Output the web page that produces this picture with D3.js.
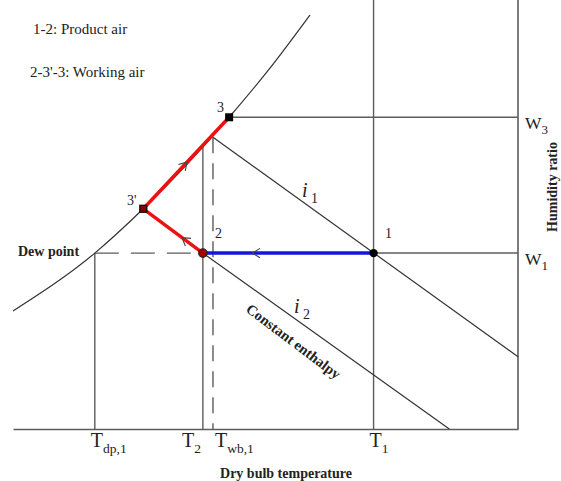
<!DOCTYPE html>
<html>
<head>
<meta charset="utf-8">
<script src="https://cdn.jsdelivr.net/npm/d3@7"></script>
<style>
  body { margin: 0; background: #fff; }
  svg { display: block; }
  text { font-family: "Liberation Serif", "Times New Roman", serif; fill: #222; }
</style>
</head>
<body>
<svg id="chart" width="561" height="481"></svg>
<script>
width = 561;
height = 481;

// dry bulb temperatures (arbitrary units) and humidity ratios
T_MAX = 50;
W_MAX = 30;
T_DP = 8.1;
T_2 = 18.8;
T_WB = 19.8;
T_1 = 35.7;
W_1 = 12.3;
W_3 = 21.8;

// state points [name, T, W]
statePoints = [['1', 35.7, 12.3], ['2', 18.8, 12.3], ["3'", 12.9, 15.4], ['3', 21.4, 21.8]];

// saturation curve
satT = [0, 8.1, 12.9, 21.4, 25.4, 29.4];
satW = [8.25, 12.3, 15.4, 21.8, 25.2, 28.95];

// constant enthalpy lines
enthalpy1 = [[19.8, 20.4], [50, 5.05]];
enthalpy2 = [[18.8, 12.3], [43.2, 0]];

productPath = ['1', '2'];
workingPath = ['2', "3'", '3'];

xTicks = [
	{main: 'T', sub: 'dp,1', T: T_DP, anchor: 'start', dx: -4},
	{main: 'T', sub: '2', T: T_2, anchor: 'end', dx: -2},
	{main: 'T', sub: 'wb,1', T: T_WB, anchor: 'start', dx: 2},
	{main: 'T', sub: '1', T: T_1, anchor: 'start', dx: -4}
];
yTicks = [
	{main: 'W', sub: '3', W: W_3},
	{main: 'W', sub: '1', W: W_1}
];

x = d3.scaleLinear().domain([0, T_MAX]).range([13, 518]);
y = d3.scaleLinear().domain([0, W_MAX]).range([429, 0]);

svg = d3.select('#chart');
svg.append('rect').attr('width', width).attr('height', height).attr('fill', '#fff');

GRID = '#5c5c5c';
DARK = '#333';

function pt(name){
	let p = statePoints.find(d => d[0] == name);
	return [p[1], p[2]];
}

function seg(T1, W1, T2, W2, color, w, dash){
	let l = svg.append('line')
		.attr('x1', x(T1)).attr('y1', y(W1))
		.attr('x2', x(T2)).attr('y2', y(W2))
		.attr('stroke', color).attr('stroke-width', w);
	if(dash) l.attr('stroke-dasharray', dash);
	return l;
}

// x axis
svg.append('g')
	.attr('transform', `translate(0,${y(0)})`)
	.call(d3.axisBottom(x).tickValues([]).tickSizeOuter(0))
	.select('.domain').attr('stroke', GRID).attr('stroke-width', 1.5);

// working air position on 3'-3 at a given T
function redW(T){
	let a = pt("3'"), b = pt('3');
	return a[1] + (T - a[0]) / (b[0] - a[0]) * (b[1] - a[1]);
}

// vertical lines
seg(T_DP, W_1, T_DP, 0, GRID, 1.4);
seg(T_2, redW(T_2), T_2, 0, GRID, 1.4);
seg(T_WB, enthalpy1[0][1], T_WB, 0, GRID, 1.4, '16,10');
seg(T_1, W_MAX, T_1, 0, GRID, 1.4);
seg(T_MAX, W_MAX, T_MAX, 0, GRID, 1.6);

// horizontal lines
seg(pt('3')[0], W_3, T_MAX, W_3, GRID, 1.5);
seg(T_1, W_1, T_MAX, W_1, GRID, 1.5);
seg(T_DP, W_1, T_2, W_1, GRID, 1.3, '24,12');

// enthalpy lines
seg(enthalpy1[0][0], enthalpy1[0][1], enthalpy1[1][0], enthalpy1[1][1], DARK, 1.2);
seg(enthalpy2[0][0], enthalpy2[0][1], enthalpy2[1][0], enthalpy2[1][1], DARK, 1.2);

// saturation curve
svg.append('path')
	.datum(d3.zip(satT, satW))
	.attr('d', d3.line().x(d => x(d[0])).y(d => y(d[1])).curve(d3.curveMonotoneX))
	.attr('fill', 'none').attr('stroke', DARK).attr('stroke-width', 1.2);

// process lines
lineGen = d3.line().x(d => x(d[0])).y(d => y(d[1]));
svg.append('path').datum(productPath.map(pt)).attr('d', lineGen)
	.attr('fill', 'none').attr('stroke', '#1414e0').attr('stroke-width', 3.5);
svg.append('path').datum(workingPath.map(pt)).attr('d', lineGen)
	.attr('fill', 'none').attr('stroke', '#ee1111').attr('stroke-width', 3.5);

// open arrow heads along the flow
function arrowHead(from, to, f){
	let a = pt(from), b = pt(to);
	let px = x(a[0]) + (x(b[0]) - x(a[0])) * f;
	let py = y(a[1]) + (y(b[1]) - y(a[1])) * f;
	let ang = Math.atan2(y(b[1]) - y(a[1]), x(b[0]) - x(a[0]));
	let len = 9, spread = 0.55;
	let p1 = [px - len * Math.cos(ang - spread), py - len * Math.sin(ang - spread)];
	let p2 = [px - len * Math.cos(ang + spread), py - len * Math.sin(ang + spread)];
	svg.append('path')
		.attr('d', `M${p1[0]},${p1[1]}L${px},${py}L${p2[0]},${p2[1]}`)
		.attr('fill', 'none').attr('stroke', '#444').attr('stroke-width', 1.1);
}
arrowHead("3'", '3', 0.51);
arrowHead('2', "3'", 0.35);
arrowHead('1', '2', 0.71);

// state point markers
svg.append('circle').attr('cx', x(pt('1')[0])).attr('cy', y(pt('1')[1])).attr('r', 4.2).attr('fill', '#000');
svg.append('circle').attr('cx', x(pt('2')[0])).attr('cy', y(pt('2')[1])).attr('r', 4.2)
	.attr('fill', '#a00').attr('stroke', '#222').attr('stroke-width', 1.2);
svg.append('rect').attr('x', x(pt('3')[0]) - 4).attr('y', y(pt('3')[1]) - 4)
	.attr('width', 8).attr('height', 8).attr('fill', '#000');
svg.append('rect').attr('x', x(pt("3'")[0]) - 3.5).attr('y', y(pt("3'")[1]) - 3.5)
	.attr('width', 7).attr('height', 7).attr('fill', '#800').attr('stroke', '#111').attr('stroke-width', 1.3);

// point labels
pointLabels = [['3', 217, 112], ["3'", 127, 205], ['1', 385, 238], ['2', 215, 238]];
svg.selectAll('.plabel').data(pointLabels).enter().append('text')
	.attr('class', 'plabel')
	.attr('x', d => d[1]).attr('y', d => d[2])
	.attr('font-size', 14).text(d => d[0]);

function subText(xp, yp, main, sub, anchor, size, subSize, italic){
	let t = svg.append('text').attr('x', xp).attr('y', yp)
		.attr('text-anchor', anchor).attr('font-size', size);
	let m = t.append('tspan').text(main);
	if(italic) m.attr('font-style', 'italic');
	t.append('tspan').attr('dy', size * 0.28).attr('font-size', subSize).text(sub);
	return t;
}

// tick labels
xTicks.forEach(d => subText(x(d.T) + d.dx, 447, d.main, d.sub, d.anchor, 20, 13.5));
yTicks.forEach(d => subText(525, y(d.W) + 12, d.main, d.sub, 'start', 17.5, 13));

// enthalpy labels
subText(302, 197, 'i', ' 1', 'start', 20, 14, true);
subText(294, 313, 'i', ' 2', 'start', 20, 14, true);

svg.append('text')
	.attr('transform', 'translate(245,311) rotate(37)')
	.attr('font-size', 14.5).attr('font-weight', 'bold')
	.text('Constant enthalpy');

// notes and titles
svg.append('text').attr('x', 33).attr('y', 34).attr('font-size', 15).text('1-2:  Product air');
svg.append('text').attr('x', 30).attr('y', 77).attr('font-size', 15).text("2-3'-3: Working air");
svg.append('text').attr('x', 18).attr('y', 256).attr('font-size', 14).attr('font-weight', 'bold').text('Dew point');

svg.append('text')
	.attr('x', 286).attr('y', 478).attr('text-anchor', 'middle')
	.attr('font-size', 14).attr('font-weight', 'bold')
	.text('Dry bulb temperature');

svg.append('text')
	.attr('transform', 'translate(557,187) rotate(-90)')
	.attr('text-anchor', 'middle')
	.attr('font-size', 14).attr('font-weight', 'bold')
	.text('Humidity ratio');
</script>
</body>
</html>
